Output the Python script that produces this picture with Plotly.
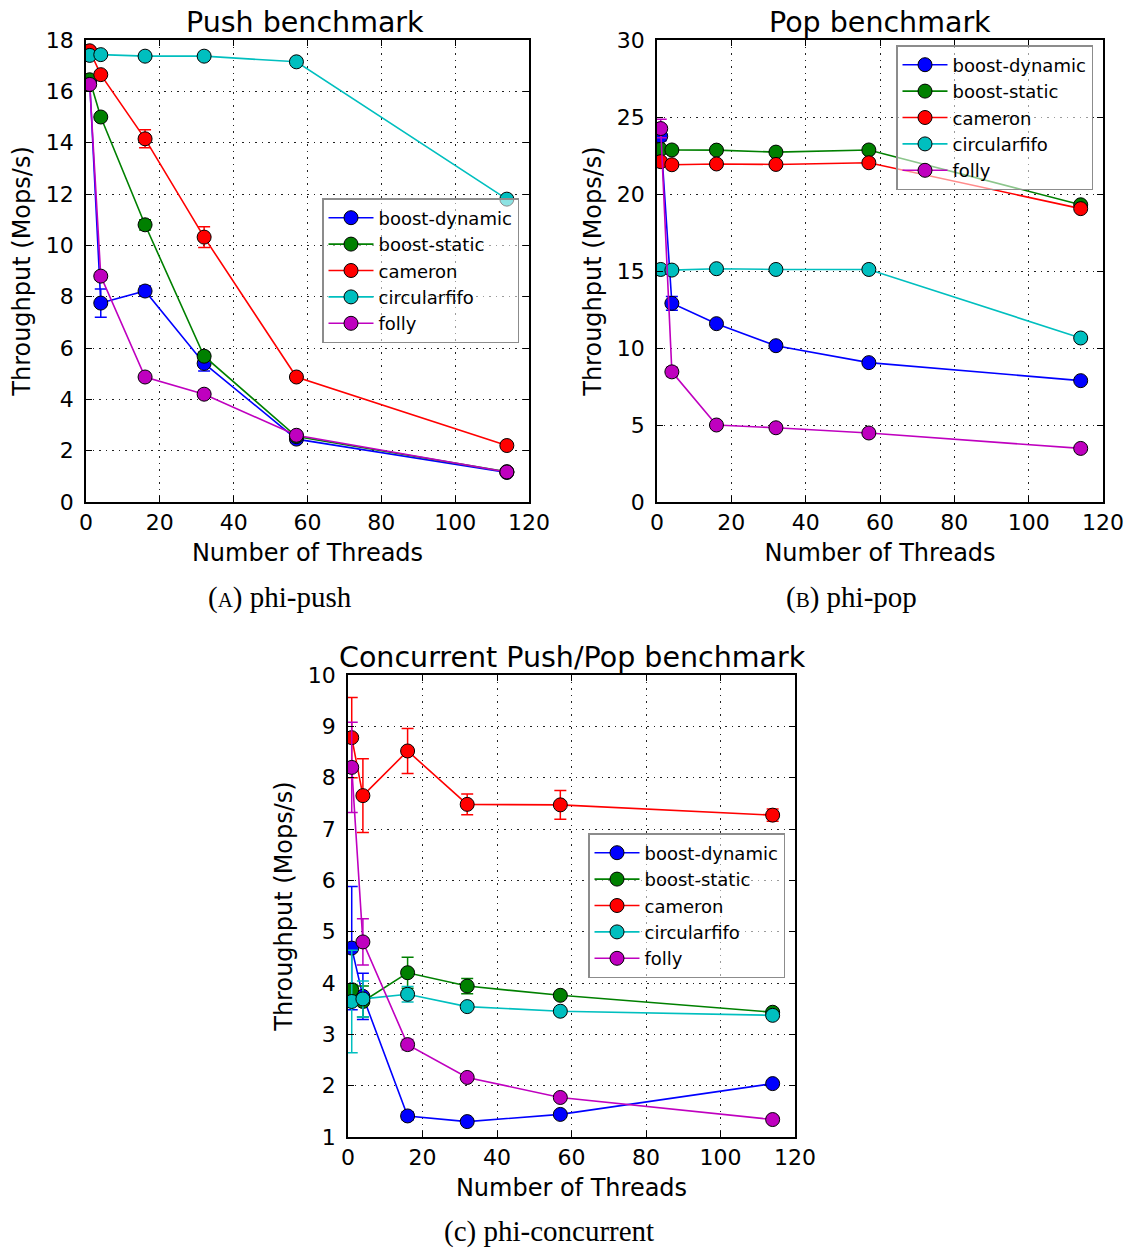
import plotly.graph_objects as go

threads = [1, 4, 16, 32, 57, 114]
series_names = ["boost-dynamic", "boost-static", "cameron", "circularfifo", "folly"]
colors = ["#0000ff", "#008000", "#ff0000", "#00bfbf", "#bf00bf"]

# Push benchmark
push_boost_dynamic = [16.4, 7.75, 8.22, 5.4, 2.45, 1.15]
push_boost_static = [16.45, 15.0, 10.8, 5.68, 2.55, 1.18]
push_cameron = [17.58, 16.65, 14.15, 10.32, 4.87, 2.2]
push_circularfifo = [17.4, 17.43, 17.37, 17.37, 17.15, 11.8]
push_folly = [16.27, 8.8, 4.87, 4.2, 2.6, 1.17]
push_err_boost_dynamic = [0.1, 0.55, 0.2, 0.3, 0.1, 0.05]
push_err_boost_static = [0.1, 0.1, 0.2, 0.15, 0.05, 0.05]
push_err_cameron = [0.1, 0.1, 0.35, 0.4, 0.1, 0.05]
push_err_circularfifo = [0.05, 0.05, 0.05, 0.05, 0.05, 0.05]
push_err_folly = [0.1, 0.15, 0.05, 0.15, 0.05, 0.05]

# Pop benchmark
pop_boost_dynamic = [23.75, 12.9, 11.58, 10.15, 9.05, 7.88]
pop_boost_static = [22.9, 22.86, 22.85, 22.72, 22.86, 19.3]
pop_cameron = [22.1, 21.9, 21.95, 21.92, 22.03, 19.05]
pop_circularfifo = [15.1, 15.06, 15.15, 15.1, 15.1, 10.65]
pop_folly = [24.25, 8.45, 5.0, 4.82, 4.48, 3.48]
pop_err_boost_dynamic = [0.3, 0.45, 0.1, 0.1, 0.1, 0.05]
pop_err_boost_static = [0.1, 0.05, 0.05, 0.05, 0.05, 0.05]
pop_err_cameron = [0.2, 0.05, 0.05, 0.05, 0.05, 0.05]
pop_err_circularfifo = [0.1, 0.05, 0.05, 0.05, 0.05, 0.05]
pop_err_folly = [0.6, 0.3, 0.05, 0.05, 0.05, 0.05]

# Concurrent push/pop benchmark
conc_boost_dynamic = [4.68, 3.74, 1.41, 1.3, 1.44, 2.04]
conc_boost_static = [3.87, 3.64, 4.2, 3.94, 3.76, 3.43]
conc_cameron = [8.78, 7.65, 8.52, 7.48, 7.47, 7.27]
conc_circularfifo = [3.64, 3.69, 3.78, 3.54, 3.45, 3.37]
conc_folly = [8.2, 4.8, 2.8, 2.16, 1.77, 1.34]
conc_err_boost_dynamic = [1.2, 0.45, 0.08, 0.05, 0.05, 0.05]
conc_err_boost_static = [0.1, 0.3, 0.3, 0.15, 0.05, 0.05]
conc_err_cameron = [0.78, 0.72, 0.44, 0.2, 0.28, 0.12]
conc_err_circularfifo = [1.0, 0.35, 0.15, 0.05, 0.05, 0.05]
conc_err_folly = [0.88, 0.45, 0.1, 0.05, 0.05, 0.05]

panels = [
    ("x", "y", "legend",
     [push_boost_dynamic, push_boost_static, push_cameron, push_circularfifo, push_folly],
     [push_err_boost_dynamic, push_err_boost_static, push_err_cameron, push_err_circularfifo, push_err_folly]),
    ("x2", "y2", "legend2",
     [pop_boost_dynamic, pop_boost_static, pop_cameron, pop_circularfifo, pop_folly],
     [pop_err_boost_dynamic, pop_err_boost_static, pop_err_cameron, pop_err_circularfifo, pop_err_folly]),
    ("x3", "y3", "legend3",
     [conc_boost_dynamic, conc_boost_static, conc_cameron, conc_circularfifo, conc_folly],
     [conc_err_boost_dynamic, conc_err_boost_static, conc_err_cameron, conc_err_circularfifo, conc_err_folly]),
]

fig = go.Figure()
for xa, ya, lg, vals, errs in panels:
    for name, col, v, e in zip(series_names, colors, vals, errs):
        fig.add_trace(go.Scatter(
            x=threads, y=v, name=name, xaxis=xa, yaxis=ya, legend=lg,
            mode="lines+markers",
            line=dict(color=col, width=1.6),
            marker=dict(color=col, size=14, line=dict(color="black", width=1)),
            error_y=dict(type="data", array=e, visible=True, color=col, thickness=1.5, width=6),
        ))

W, H = 1134, 1248
FONT = "DejaVu Sans"

def xd(a, b):
    return [a / W, b / W]

def yd(top, bottom):
    return [1 - bottom / H, 1 - top / H]

def axis_common(**kw):
    d = dict(
        showline=True, linecolor="black", linewidth=1.8, mirror="ticks",
        ticks="inside", ticklen=6, tickwidth=1.2, tickcolor="black",
        showgrid=True, gridcolor="#222222", gridwidth=1.2, griddash="1.5px,5px",
        zeroline=False, automargin=False,
        tickfont=dict(family=FONT, size=22, color="black"),
    )
    d.update(kw)
    return d

xt = dict(text="Number of Threads", font=dict(family=FONT, size=24, color="black"), standoff=10)
yt = dict(text="Throughput (Mops/s)", font=dict(family=FONT, size=24, color="black"), standoff=8)

legend_style = dict(
    bgcolor="rgba(255,255,255,0.55)", bordercolor="#8c8c8c", borderwidth=1.5,
    font=dict(family=FONT, size=18, color="black"),
    xanchor="left", yanchor="top", itemwidth=45, tracegroupgap=0,
)

fig.update_layout(
    width=W, height=H, margin=dict(l=0, r=0, t=0, b=0, autoexpand=False),
    paper_bgcolor="white", plot_bgcolor="white", showlegend=True,
    xaxis=axis_common(domain=xd(86, 529), range=[0, 120], dtick=20, anchor="y", title=xt),
    yaxis=axis_common(domain=yd(40, 502), range=[0, 18], dtick=2, anchor="x", title=yt, ticklabelstandoff=6),
    xaxis2=axis_common(domain=xd(657, 1103), range=[0, 120], dtick=20, anchor="y2", title=xt),
    yaxis2=axis_common(domain=yd(40, 502), range=[0, 30], dtick=5, anchor="x2", title=yt, ticklabelstandoff=6),
    xaxis3=axis_common(domain=xd(348, 795), range=[0, 120], dtick=20, anchor="y3", title=xt),
    yaxis3=axis_common(domain=yd(675, 1137), range=[1, 10], dtick=1, anchor="x3", title=yt, ticklabelstandoff=6),
    legend=dict(x=322 / W, y=1 - 198 / H, **legend_style),
    legend2=dict(x=896 / W, y=1 - 45 / H, **legend_style),
    legend3=dict(x=588 / W, y=1 - 833 / H, **legend_style),
)

titles = [("Push benchmark", 305, 22), ("Pop benchmark", 880, 22), ("Concurrent Push/Pop benchmark", 572, 657)]
for t, cx, cy in titles:
    fig.add_annotation(text=t, x=cx / W, y=1 - cy / H, xref="paper", yref="paper",
                       showarrow=False, xanchor="center", yanchor="middle",
                       font=dict(family=FONT, size=28.5, color="black"))

SERIF = "Liberation Serif"
captions = [("(<span style='font-size:21px'>A</span>) phi-push", 280, 597),
            ("(<span style='font-size:21px'>B</span>) phi-pop", 851, 597),
            ("(c) phi-concurrent", 549, 1231)]
for t, cx, cy in captions:
    fig.add_annotation(text=t, x=cx / W, y=1 - cy / H, xref="paper", yref="paper",
                       showarrow=False, xanchor="center", yanchor="middle",
                       font=dict(family=SERIF, size=29, color="black"))

fig.write_html("out.html", config={"displayModeBar": False},
               post_script="document.body.style.margin='0px';document.body.style.overflow='hidden';")
